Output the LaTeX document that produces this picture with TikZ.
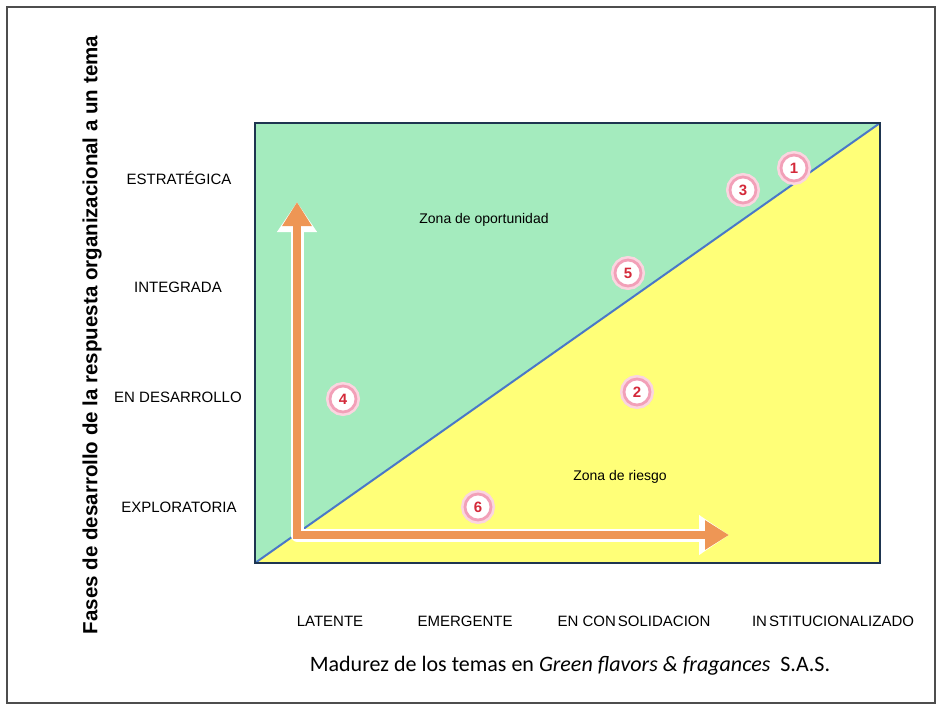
\documentclass[tikz,border=0pt]{standalone}
\usepackage{fontspec}
\setmainfont{Liberation Sans}
\newfontfamily\calibrifont{Carlito}
\usetikzlibrary{arrows.meta}

\definecolor{mint}{HTML}{A4EBBE}
\definecolor{lemon}{HTML}{FFFF78}
\definecolor{boxedge}{HTML}{1E3550}
\definecolor{diagblue}{HTML}{4A78C8}
\definecolor{arroworange}{HTML}{EE9655}
\definecolor{ringpink}{HTML}{F2A0B8}
\definecolor{glowpink}{HTML}{FBD5E0}
\definecolor{numred}{HTML}{D42A3A}
\definecolor{framegray}{HTML}{4D4D4D}

\tikzset{
  phase/.style={font=\fontsize{15}{15}\selectfont, inner sep=0pt, anchor=center},
  zone/.style={font=\fontsize{14}{14}\selectfont, inner sep=0pt},
  numcirc/.style={circle, fill=white, draw=ringpink, line width=2.8pt,
    minimum size=26pt, inner sep=0pt, text=numred,
    font=\bfseries\fontsize{15}{15}\selectfont,
    preaction={draw=glowpink, line width=8pt}},
  bigarrow/.style={draw=arroworange, line width=8pt,
    {Triangle[length=24pt,width=28pt]}-{Triangle[length=24pt,width=28pt]}},
  arrowglow/.style={draw=white, line width=13pt,
    {Triangle[length=30pt,width=38pt]}-{Triangle[length=30pt,width=38pt]}},
}

\begin{document}
\begin{tikzpicture}[x=1pt,y=-1pt]
  \useasboundingbox (0,0) rectangle (941,707);
  \fill[white] (0,0) rectangle (941,707);

  % outer frame
  \draw[framegray, line width=2.5pt] (7,7) rectangle (935,703);

  % matrix corners
  \coordinate (bl) at (255,563);
  \coordinate (tr) at (880,123);
  \coordinate (tl) at (255,123);
  \coordinate (br) at (880,563);

  % two zones split by the diagonal
  \fill[mint] (bl) -- (tl) -- (tr) -- cycle;
  \fill[lemon] (bl) -- (br) -- (tr) -- cycle;
  \draw[diagblue, line width=2pt] (bl) -- (tr);
  \draw[boxedge, line width=2.5pt] (bl) rectangle (tr);

  % orange development arrows
  \coordinate (corner) at (297,535);
  \coordinate (vtip) at (297,202);
  \coordinate (htip) at (729,535);
  \draw[arrowglow, line join=round] (vtip) -- (corner) -- (htip);
  \draw[bigarrow] (vtip) -- (corner) -- (htip);

  % zone labels
  \node[zone] (zop) at (484,220) {Zona de oportunidad};
  \node[zone] (zri) at (620,477) {Zona de riesgo};

  % numbered markers
  \node[numcirc] (c1) at (794,168) {1};
  \node[numcirc] (c3) at (743,190) {3};
  \node[numcirc] (c5) at (628,273) {5};
  \node[numcirc] (c4) at (343,399) {4};
  \node[numcirc] (c2) at (637,392) {2};
  \node[numcirc] (c6) at (478,507) {6};

  % vertical axis phases
  \node[phase] (p4) at (179,178) {ESTRATÉGICA};
  \node[phase] (p3) at (178,287) {INTEGRADA};
  \node[phase] (p2) at (178,397) {EN DESARROLLO};
  \node[phase] (p1) at (179,507) {EXPLORATORIA};

  % horizontal axis maturity levels
  \node[phase] (m1) at (330,621) {LATENTE};
  \node[phase] (m2) at (465,621) {EMERGENTE};
  \node[phase] (m3) at (634,621) {EN CON\hspace{2pt}SOLIDACION};
  \node[phase] (m4) at (833,621) {IN\hspace{2pt}STITUCIONALIZADO};

  % axis titles
  \node[rotate=90, inner sep=0pt, font=\bfseries\fontsize{20.5}{20.5}\selectfont] (ytitle)
    at (92,335) {Fases de desarrollo de la respuesta organizacional a un tema};
  \node[inner sep=0pt, font=\calibrifont\fontsize{22}{22}\selectfont] (xtitle)
    at (570,666) {Madurez de los temas en \textit{Green flavors \& fragances}\ \ S.A.S.};
\end{tikzpicture}
\end{document}
